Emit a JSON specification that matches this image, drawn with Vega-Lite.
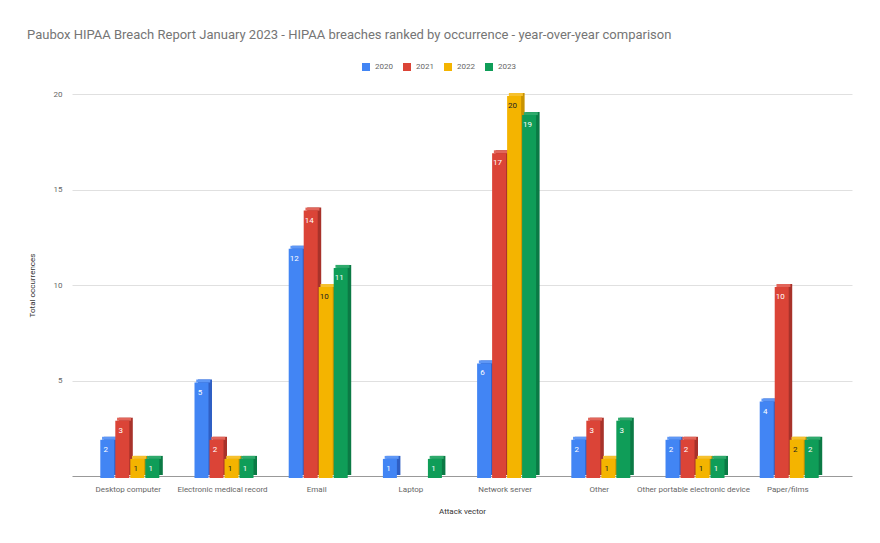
{
  "$schema": "https://vega.github.io/schema/vega-lite/v6.json",
  "autosize": "none",
  "width": 780,
  "height": 382,
  "padding": {"left": 72, "top": 94, "right": 28, "bottom": 67},
  "background": "white",
  "config": {
    "font": "Roboto",
    "view": {"stroke": null},
    "title": {"fontSize": 13, "fontWeight": "normal", "color": "#757575", "anchor": "start", "font": "Roboto"}
  },
  "title": {"text": "Paubox HIPAA Breach Report January 2023 - HIPAA breaches ranked by occurrence - year-over-year comparison", "offset": 20, "dx": -1},
  "data": {
    "values": [
      {"vector": "Desktop computer", "year": "2020", "value": 2},
      {"vector": "Desktop computer", "year": "2021", "value": 3},
      {"vector": "Desktop computer", "year": "2022", "value": 1},
      {"vector": "Desktop computer", "year": "2023", "value": 1},
      {"vector": "Electronic medical record", "year": "2020", "value": 5},
      {"vector": "Electronic medical record", "year": "2021", "value": 2},
      {"vector": "Electronic medical record", "year": "2022", "value": 1},
      {"vector": "Electronic medical record", "year": "2023", "value": 1},
      {"vector": "Email", "year": "2020", "value": 12},
      {"vector": "Email", "year": "2021", "value": 14},
      {"vector": "Email", "year": "2022", "value": 10},
      {"vector": "Email", "year": "2023", "value": 11},
      {"vector": "Laptop", "year": "2020", "value": 1},
      {"vector": "Laptop", "year": "2021", "value": 0},
      {"vector": "Laptop", "year": "2022", "value": 0},
      {"vector": "Laptop", "year": "2023", "value": 1},
      {"vector": "Network server", "year": "2020", "value": 6},
      {"vector": "Network server", "year": "2021", "value": 17},
      {"vector": "Network server", "year": "2022", "value": 20},
      {"vector": "Network server", "year": "2023", "value": 19},
      {"vector": "Other", "year": "2020", "value": 2},
      {"vector": "Other", "year": "2021", "value": 3},
      {"vector": "Other", "year": "2022", "value": 1},
      {"vector": "Other", "year": "2023", "value": 3},
      {"vector": "Other portable electronic device", "year": "2020", "value": 2},
      {"vector": "Other portable electronic device", "year": "2021", "value": 2},
      {"vector": "Other portable electronic device", "year": "2022", "value": 1},
      {"vector": "Other portable electronic device", "year": "2023", "value": 1},
      {"vector": "Paper/films", "year": "2020", "value": 4},
      {"vector": "Paper/films", "year": "2021", "value": 10},
      {"vector": "Paper/films", "year": "2022", "value": 2},
      {"vector": "Paper/films", "year": "2023", "value": 2}
    ]
  },
  "transform": [{"filter": "datum.value > 0"}],
  "encoding": {
    "xOffset": {"field": "year", "type": "nominal", "scale": {"type": "band", "domain": ["2020", "2021", "2022", "2023"], "paddingInner": 0.0, "paddingOuter": 0}},
    "y": {
      "field": "value", "type": "quantitative",
      "scale": {"domain": [0, 20], "nice": false},
      "axis": {
        "title": "Total occurrences", "values": [5, 10, 15, 20], "domain": false, "ticks": false,
        "gridColor": "#e0e0e0", "labelFontSize": 8, "labelColor": "#666", "labelPadding": 10,
        "titleFontSize": 8, "titleFontWeight": "normal", "titleColor": "#333", "titlePadding": 17
      }
    }
  },
  "layer": [
    {
      "mark": {"type": "bar", "width": {"band": 0.933}, "yOffset": -1, "y2Offset": -1},
      "encoding": {
        "x": {"field": "vector", "type": "nominal", "sort": null, "axis": null,
          "scale": {"type": "band", "paddingInner": 0.363, "paddingOuter": 0.3215, "align": 0.4918}},
        "color": {"field": "year", "type": "nominal", "legend": null,
          "scale": {"domain": ["2020", "2021", "2022", "2023"], "range": ["#2F5FC4", "#A8322A", "#C99300", "#0B7A45"]}}
      }
    },
    {
      "mark": {"type": "bar", "width": {"band": 0.933}, "yOffset": -1, "y2Offset": 2},
      "encoding": {
        "x": {"field": "vector", "type": "nominal", "sort": null, "axis": null,
          "scale": {"type": "band", "paddingInner": 0.363, "paddingOuter": 0.3215, "align": 0.4629}},
        "y2": {"field": "value"},
        "color": {"field": "year", "type": "nominal", "legend": null,
          "scale": {"domain": ["2020", "2021", "2022", "2023"], "range": ["#5E97F6", "#E2655A", "#F6C12E", "#2FAA6C"]}}
      }
    },
    {
      "mark": {"type": "bar", "width": {"band": 0.933}, "yOffset": 2, "y2Offset": 2},
      "encoding": {
        "x": {
          "field": "vector", "type": "nominal", "sort": null,
          "scale": {"type": "band", "paddingInner": 0.363, "paddingOuter": 0.3215, "align": 0.434},
          "axis": {
            "title": "Attack vector", "labelAngle": 0, "labelFontSize": 8, "labelColor": "#666",
            "ticks": false, "domainColor": "#999", "labelPadding": 9, "labelLimit": 200,
            "titleFontSize": 8, "titleFontWeight": "normal", "titleColor": "#333", "titlePadding": 14
          }
        },
        "color": {"field": "year", "type": "nominal",
          "scale": {"domain": ["2020", "2021", "2022", "2023"], "range": ["#4285F4", "#DB4437", "#F4B400", "#0F9D58"]},
          "legend": {"orient": "none", "legendX": 289, "legendY": -32, "direction": "horizontal", "title": null,
            "symbolType": "square", "symbolSize": 64, "labelFontSize": 8, "labelColor": "#666", "columnPadding": 9, "padding": 0}
        }
      }
    },
    {
      "mark": {"type": "text", "fontSize": 8, "baseline": "middle", "dy": 12},
      "encoding": {
        "x": {"field": "vector", "type": "nominal", "sort": null, "axis": null,
          "scale": {"type": "band", "paddingInner": 0.363, "paddingOuter": 0.3215, "align": 0.434}},
        "text": {"field": "value", "type": "quantitative"},
        "color": {"condition": {"test": "datum.year === '2022'", "value": "#222"}, "value": "white"}
      }
    }
  ],
  "resolve": {"scale": {"color": "independent", "x": "independent", "xOffset": "independent"}, "axis": {"x": "independent"}}
}
